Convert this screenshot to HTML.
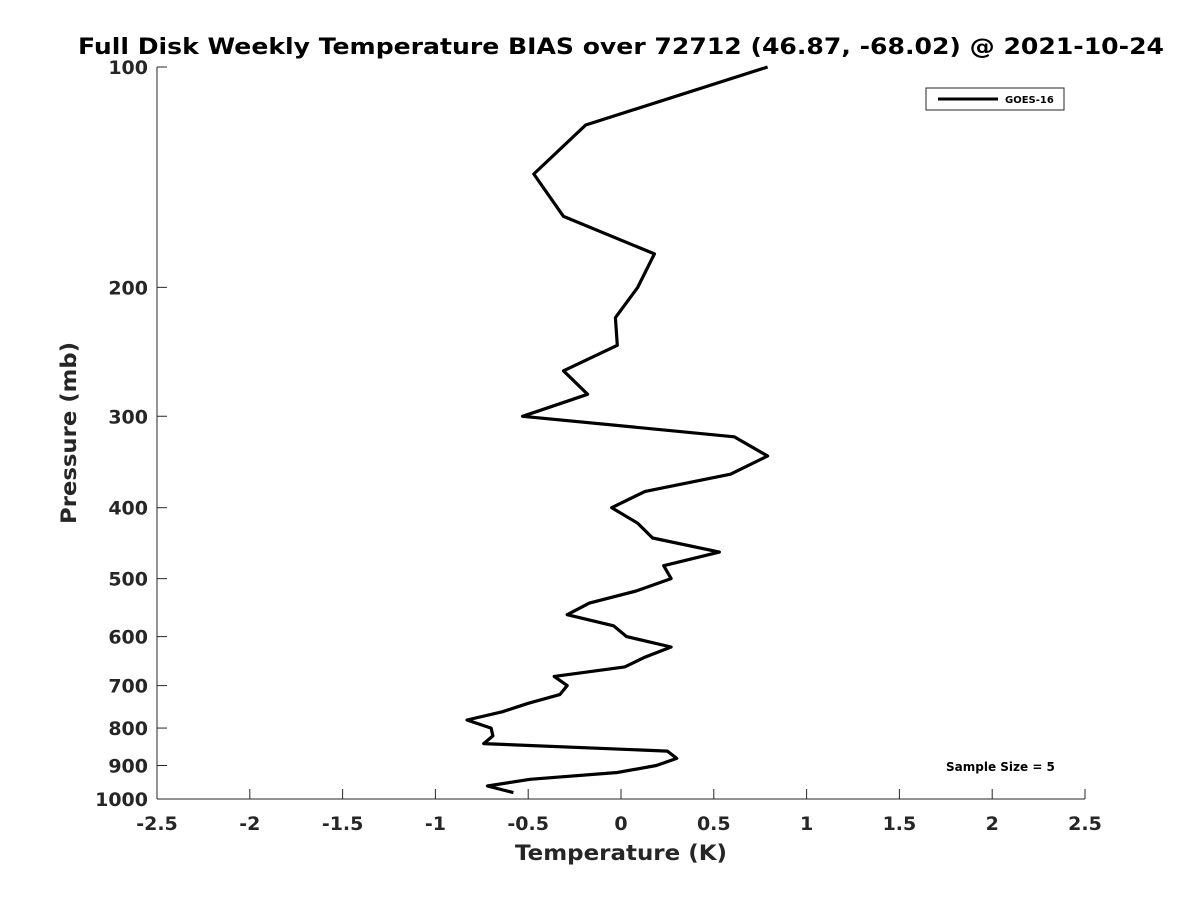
<!DOCTYPE html>
<html><head><meta charset="utf-8"><style>
body{margin:0;background:#fff}
svg{display:block;font-family:"DejaVu Sans","Liberation Sans",sans-serif}
</style></head><body>
<svg width="1200" height="900">
<rect width="1200" height="900" fill="#fff"/>
<g id="axes"></g>
<path id="line" fill="none" stroke="#000" stroke-width="3.2" stroke-linejoin="round"/>
<text x="621" y="54" text-anchor="middle" font-size="22" font-weight="bold" fill="#000" textLength="1086" lengthAdjust="spacingAndGlyphs">Full Disk Weekly Temperature BIAS over 72712 (46.87, -68.02) @ 2021-10-24</text>
<text x="621" y="860" text-anchor="middle" font-size="21" font-weight="bold" fill="#262626" textLength="212" lengthAdjust="spacingAndGlyphs">Temperature (K)</text>
<text transform="translate(76,433) rotate(-90)" text-anchor="middle" font-size="21" font-weight="bold" fill="#262626" textLength="182" lengthAdjust="spacingAndGlyphs">Pressure (mb)</text>
<g>
<rect x="926" y="88" width="138" height="22" fill="#fff" stroke="#262626" stroke-width="1"/>
<line x1="938" y1="99" x2="998" y2="99" stroke="#000" stroke-width="3"/>
<text x="1005" y="103" font-size="10" font-weight="bold" fill="#000">GOES-16</text>
</g>
<text x="946" y="771" font-size="12" font-weight="bold" fill="#000">Sample Size = 5</text>
</svg>
<script>
const pressures=[100,120,140,160,180,200,220,240,260,280,300,320,340,360,380,400,420,440,460,480,500,520,540,560,580,600,620,640,660,680,700,720,740,760,780,800,820,840,860,880,900,920,940,960,980];
const bias=[0.79,-0.19,-0.47,-0.31,0.18,0.09,-0.03,-0.02,-0.31,-0.18,-0.53,0.61,0.79,0.59,0.13,-0.05,0.09,0.17,0.53,0.23,0.27,0.08,-0.17,-0.29,-0.04,0.03,0.27,0.13,0.02,-0.36,-0.29,-0.33,-0.50,-0.64,-0.83,-0.70,-0.69,-0.74,0.25,0.30,0.19,-0.02,-0.49,-0.72,-0.58];
const xTicks=[-2.5,-2,-1.5,-1,-0.5,0,0.5,1,1.5,2,2.5];
const yTicks=[100,200,300,400,500,600,700,800,900,1000];
const X0=157,X1=1085,Y0=67,Y1=799;
function xs(v){return X0+(v+2.5)/5*(X1-X0);}
function ys(p){return Y0+Math.log10(p/100)*(Y1-Y0);}
const NS="http://www.w3.org/2000/svg";
const g=document.getElementById('axes');
function mk(t,a){const e=document.createElementNS(NS,t);for(const k in a)e.setAttribute(k,a[k]);g.appendChild(e);return e;}
let ax=mk('line',{x1:X0,y1:Y0,x2:X0,y2:Y1,stroke:'#262626','stroke-width':1});


let bx=mk('line',{x1:X0,y1:Y1,x2:X1,y2:Y1,stroke:'#262626','stroke-width':1});


xTicks.forEach(v=>{
  const x=xs(v);
  mk('line',{x1:x,y1:Y1,x2:x,y2:Y1-10,stroke:'#262626','stroke-width':1});
  const t=mk('text',{x:x,y:830,'text-anchor':'middle','font-size':19,'font-weight':'bold',fill:'#262626'});
  t.textContent=String(v);
  
  
});
yTicks.forEach(p=>{
  const y=ys(p);
  mk('line',{x1:X0,y1:y,x2:X0+10,y2:y,stroke:'#262626','stroke-width':1});
  const t=mk('text',{x:148,y:y+7,'text-anchor':'end','font-size':19,'font-weight':'bold',fill:'#262626'});
  t.textContent=String(p);
  
  
});
document.getElementById('line').setAttribute('d',pressures.map((p,i)=>(i?'L':'M')+xs(bias[i]).toFixed(1)+','+ys(p).toFixed(1)).join(' '));
</script>
</body></html>
